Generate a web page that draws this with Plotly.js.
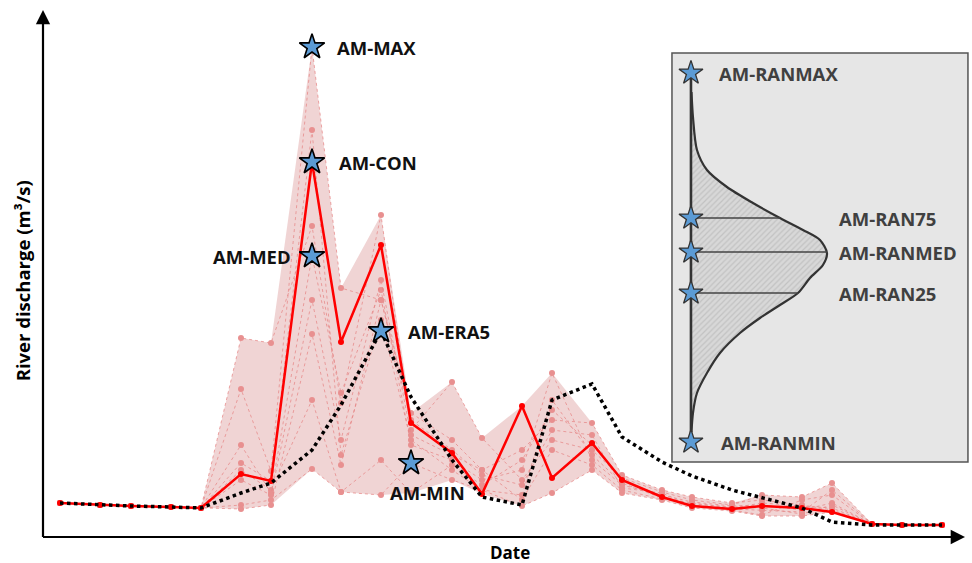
<!DOCTYPE html>
<html>
<head>
<meta charset="utf-8">
<script src="https://cdn.plot.ly/plotly-3.0.1.min.js"></script>
<style>html,body{margin:0;padding:0;background:#fff;}#chart{width:972px;height:563px;}</style>
</head>
<body>
<div id="chart"></div>
<script>
// ---- Data (schematic, values) ----
var day = [0,40,71,111,141,181,211,252,281,321,351,392,422,462,492,532,562,602,632,672,702,742,772,812,842,882];

var amCon = [34,32,31,30,29,63,56,375,195,292,114,84,43,131,59,94,57,40,31,28,31,29,25,13,12,12];
var era5  = [34,32,31,30,29,44,54,87,132,206,140,77,40,32,137,153,100,75,61,47,39,29,15,12,12,12];

var member1 = [34,32,31,30,29,148,66,490,249,237,124,97,67,87,117,114,62,47,40,34,37,32,27,13,12,12];
var member2 = [34,32,31,30,29,199,194,311,134,322,107,155,99,57,97,87,59,45,37,32,42,40,54,13,12,12];
var member3 = [34,32,31,30,29,92,44,281,144,247,92,77,57,67,164,77,52,42,35,31,32,27,34,13,12,12];
var member4 = [34,32,31,30,29,74,56,407,82,217,97,67,47,42,137,82,54,39,34,29,34,31,29,13,12,12];
var member5 = [34,32,31,30,29,28,32,203,72,237,117,87,62,52,107,102,49,44,31,27,22,37,42,13,12,12];
var member6 = [34,32,31,30,29,32,37,68,45,42,74,57,47,31,44,67,44,37,29,26,21,21,25,13,12,12];
var member7 = [34,32,31,30,29,67,47,137,45,77,44,72,52,77,127,92,57,41,32,28,27,25,47,13,12,12];
var member8 = [34,32,31,30,29,57,42,237,97,257,102,82,67,37,87,72,47,38,33,30,29,23,32,13,12,12];

// inset: distribution of annual maxima (density vs discharge)
var ranDensity = [0.5,2,6,16,36,62,89,112,129,136,132,119,107,89,69,49,29,16,6,2,0.5];
var ranValue   = [370,345,312,292,275,259,244,232,222,209,197,184,169,157,144,129,109,89,69,49,30];
var ranLabels  = ['AM-RANMAX','AM-RAN75','AM-RANMED','AM-RAN25','AM-RANMIN'];
var ranStarV   = [389,244,210,169,20];
var ranLineLen = [0,89,136,107,0];

// ---- Derived ----
var members = [member1,member2,member3,member4,member5,member6,member7,member8];
var allRuns = members.concat([amCon]);
var upper = day.map(function(_,i){return Math.max.apply(null, allRuns.map(function(m){return m[i];}));});
var lower = day.map(function(_,i){return Math.min.apply(null, allRuns.map(function(m){return m[i];}));});

function argmax(a){var k=0;for(var i=1;i<a.length;i++) if(a[i]>a[k]) k=i;return k;}
var annMax = allRuns.map(function(m){var k=argmax(m);return {t:day[k],v:m[k]};});
var sorted = annMax.slice().sort(function(a,b){return a.v-b.v;});
var kc = argmax(amCon), ke = argmax(era5);
var stars = [
  {name:'AM-MAX', p:sorted[sorted.length-1], xa:'left', dx:23, dy:0},
  {name:'AM-CON', p:{t:day[kc],v:amCon[kc]}, xa:'left', dx:25, dy:0},
  {name:'AM-MED', p:sorted[Math.floor(sorted.length/2)], xa:'right', dx:-19, dy:0},
  {name:'AM-ERA5', p:{t:day[ke],v:era5[ke]}, xa:'left', dx:25, dy:0},
  {name:'AM-MIN', p:sorted[0], xa:'left', dx:-23, dy:-29}
];

var traces = [];
traces.push({x:day, y:lower, mode:'lines', line:{width:0}, hoverinfo:'skip', showlegend:false});
traces.push({x:day, y:upper, mode:'lines', line:{width:0}, fill:'tonexty', fillcolor:'rgba(214,135,135,0.36)', hoverinfo:'skip', showlegend:false});
members.forEach(function(m){
  traces.push({x:day, y:m, mode:'lines+markers', line:{color:'rgba(230,130,130,0.7)', width:1, dash:'dot'},
    marker:{color:'#E89090', size:6}, showlegend:false});
});
traces.push({x:day, y:amCon, mode:'lines+markers', line:{color:'#FF0000', width:2.5}, marker:{color:'#FF0000', size:6}, showlegend:false});
traces.push({x:day, y:era5, mode:'lines', line:{color:'#000000', width:3.5, dash:'dot'}, showlegend:false});
traces.push({x:stars.map(function(s){return s.p.t;}), y:stars.map(function(s){return s.p.v;}), mode:'markers',
  marker:{symbol:'star', size:19, color:'#5B9BD5', line:{color:'#000', width:1.6}}, showlegend:false});

// inset traces
traces.push({x:ranDensity, y:ranValue, xaxis:'x2', yaxis:'y2', mode:'lines', fill:'tozerox',
  fillcolor:'#D4D4D4', fillpattern:{shape:'/', bgcolor:'#D8D8D8', fgcolor:'#C2C2C2', size:4, solidity:0.3},
  line:{color:'#333333', width:2.2, shape:'spline', smoothing:0.8}, showlegend:false});
for (var q=1;q<=3;q++){
  traces.push({x:[0, ranLineLen[q]], y:[ranStarV[q], ranStarV[q]], xaxis:'x2', yaxis:'y2', mode:'lines',
    line:{color:'#444', width:1.3}, showlegend:false});
}
traces.push({x:[0,0], y:[ranStarV[4], ranStarV[0]], xaxis:'x2', yaxis:'y2', mode:'lines', line:{color:'#333', width:2.6}, showlegend:false});
traces.push({x:ranStarV.map(function(){return 0;}), y:ranStarV, xaxis:'x2', yaxis:'y2', mode:'markers',
  marker:{symbol:'star', size:18, color:'#5B9BD5', line:{color:'#333', width:1.3}}, showlegend:false});

var F = 'Open Sans, Arial, sans-serif';
var ann = [];
stars.forEach(function(s){
  ann.push({x:s.p.t, y:s.p.v, xref:'x', yref:'y', text:'<b>'+s.name+'</b>', showarrow:false,
    xanchor:s.xa, yanchor:'middle', xshift:s.dx, yshift:s.dy, font:{family:F, size:18.5, color:'#111'}});
});
var ranTextX = [26,146,146,146,28];
ranLabels.forEach(function(l,i){
  ann.push({x:ranTextX[i], y:ranStarV[i], xref:'x2', yref:'y2', text:'<b>'+l+'</b>', showarrow:false,
    xanchor:'left', yanchor:'middle', font:{family:F, size:18.5, color:'#404040'}});
});
// arrowheads for the axes
ann.push({x:0, y:1, xref:'paper', yref:'paper', ax:0, ay:14, text:'', showarrow:true,
  arrowhead:2, arrowsize:1.3, arrowwidth:2.2, arrowcolor:'#000', standoff:0});
ann.push({x:0.9946, y:0, xref:'paper', yref:'paper', ax:-14, ay:0, text:'', showarrow:true,
  arrowhead:2, arrowsize:1.3, arrowwidth:2.2, arrowcolor:'#000', standoff:0});
// axis titles
ann.push({x:-0.0227, y:0.487, xref:'paper', yref:'paper', text:'<b>River discharge (m³/s)</b>', textangle:-90,
  xanchor:'center', yanchor:'middle', showarrow:false, font:{family:F, size:18.5, color:'#000'}});
ann.push({x:0.504, y:-0.0285, xref:'paper', yref:'paper', text:'<b>Date</b>', showarrow:false, xanchor:'center', yanchor:'middle',
  font:{family:F, size:17, color:'#000'}});

var layout = {
  width:972, height:563,
  margin:{l:43, r:2, t:10, b:26},
  paper_bgcolor:'#fff', plot_bgcolor:'rgba(0,0,0,0)',
  showlegend:false,
  xaxis:{range:[-17,910], showgrid:false, zeroline:false, showline:false, showticklabels:false, ticks:''},
  yaxis:{range:[0,527], showgrid:false, zeroline:false, showline:false, showticklabels:false, ticks:''},
  xaxis2:{domain:[0.6785,0.9978], anchor:'y2', range:[-19,277], showgrid:false, zeroline:false, showline:false, showticklabels:false, ticks:''},
  yaxis2:{domain:[0.1423,0.9184], anchor:'x2', range:[0,409], showgrid:false, zeroline:false, showline:false, showticklabels:false, ticks:''},
  shapes:[
    {type:'rect', xref:'x2 domain', yref:'y2 domain', x0:0, x1:1, y0:0, y1:1, layer:'below',
      fillcolor:'#E6E6E6', line:{color:'#555', width:1.5}},
    {type:'line', xref:'paper', yref:'paper', x0:0, x1:0, y0:0, y1:0.985, line:{color:'#000', width:2.2}},
    {type:'line', xref:'paper', yref:'paper', x0:0, x1:0.985, y0:0, y1:0, line:{color:'#000', width:2.2}}
  ],
  annotations:ann
};
Plotly.newPlot('chart', traces, layout, {displayModeBar:false, staticPlot:true});
</script>
</body>
</html>
